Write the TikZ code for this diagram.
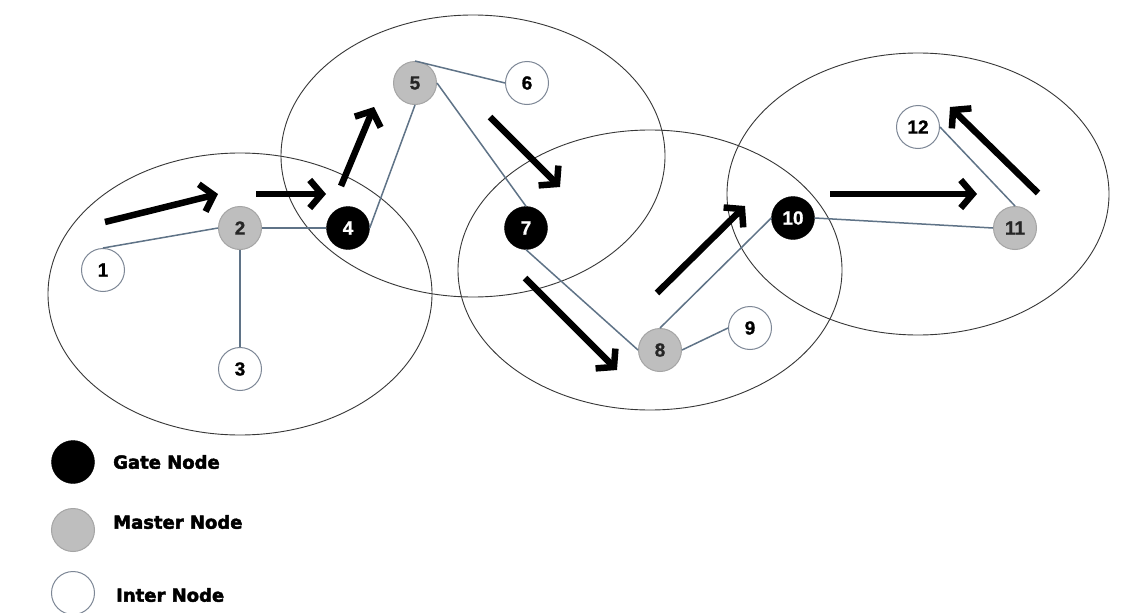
\documentclass[tikz,border=0pt]{standalone}
\usepackage{fontspec}
\setmainfont{Liberation Sans}
\newfontfamily\legfont[FakeBold=2.5]{DejaVu Sans Bold}
\newfontfamily\numfont[FakeBold=1]{Liberation Sans Bold}
\usetikzlibrary{arrows.meta}
\definecolor{edgecol}{RGB}{95,115,135}
\definecolor{mastergray}{RGB}{190,190,190}
\definecolor{masterborder}{RGB}{165,165,165}
\definecolor{interborder}{RGB}{125,135,150}
\definecolor{ringcol}{RGB}{55,55,55}
\tikzset{
  pnode/.style={circle,minimum size=43pt,inner sep=0pt,font=\numfont\fontsize{19}{19}\selectfont},
  gatenode/.style={pnode,fill=black,draw=black,text=white},
  masternode/.style={pnode,fill=mastergray,draw=masterborder,line width=1pt,text=black!85},
  internode/.style={pnode,fill=white,draw=interborder,line width=1pt,text=black},
  ring/.style={draw=ringcol,line width=0.9pt},
  link/.style={draw=edgecol,line width=1.5pt},
  flow/.style={draw=black,line width=6.5pt,line cap=butt,-{Straight Barb[length=12pt,width=28pt,line join=miter]}},
  legtext/.style={anchor=west,inner sep=0pt,font=\legfont\fontsize{18}{18}\selectfont}
}
\begin{document}
\begin{tikzpicture}[x=1pt,y=-1pt]
\useasboundingbox[fill=white] (0,0) rectangle (1136,613);
% clusters
\draw[ring] (240,294) ellipse [x radius=192,y radius=141];
\draw[ring] (473,156) ellipse [x radius=192,y radius=141];
\draw[ring] (650,270) ellipse [x radius=192,y radius=140];
\draw[ring] (918,194) ellipse [x radius=191,y radius=141];
% nodes
\node[internode]   (n1)  at (103,270) {1};
\node[masternode]  (n2)  at (240,228) {2};
\node[internode]   (n3)  at (240,369) {3};
\node[gatenode]    (n4)  at (348,228) {4};
\node[masternode]  (n5)  at (415,83)  {5};
\node[internode]   (n6)  at (527,83)  {6};
\node[gatenode]    (n7)  at (526,228) {7};
\node[masternode]  (n8)  at (660,350) {8};
\node[internode]   (n9)  at (750,328) {9};
\node[gatenode]    (n10) at (793,218) {10};
\node[masternode]  (n11) at (1015,228) {11};
\node[internode]   (n12) at (918,127) {12};
% links
\draw[link] (n2.west) -- (n1.north);
\draw[link] (n2.south) -- (n3.north);
\draw[link] (n2.east) -- (n4.west);
\draw[link] (n4.east) -- (n5.south);
\draw[link] (n5.north) -- (n6.west);
\draw[link] (n5.east) -- (n7.north);
\draw[link] (n7.south) -- (n8.west);
\draw[link] (n8.east) -- (n9.west);
\draw[link] (n8.north) -- (n10.west);
\draw[link] (n10.east) -- (n11.west);
\draw[link] (n11.north) -- (n12.east);
% flow arrows
\coordinate (a1s) at (105,222); \coordinate (a1e) at (218,194);
\coordinate (a2s) at (256,194); \coordinate (a2e) at (326,194);
\coordinate (a3s) at (341,186); \coordinate (a3e) at (374,107);
\coordinate (a4s) at (490,117); \coordinate (a4e) at (560,187);
\coordinate (a5s) at (525,278); \coordinate (a5e) at (617,370);
\coordinate (a6s) at (657,293); \coordinate (a6e) at (745,206);
\coordinate (a7s) at (830,194); \coordinate (a7e) at (977,194);
\coordinate (a8s) at (1038,193); \coordinate (a8e) at (950,107);
\foreach \s/\e in {a1s/a1e,a2s/a2e,a3s/a3e,a4s/a4e,a5s/a5e,a6s/a6e,a7s/a7e,a8s/a8e}
  \draw[flow] (\s) -- (\e);
% legend
\node[gatenode]   (lg) at (73,462) {};
\node[masternode] (lm) at (73,530) {};
\node[internode]  (li) at (73,593) {};
\node[legtext] (tg) at (113,462) {Gate Node};
\node[legtext] (tm) at (113,522) {Master Node};
\node[legtext] (ti) at (116,595) {Inter Node};
\end{tikzpicture}
\end{document}
